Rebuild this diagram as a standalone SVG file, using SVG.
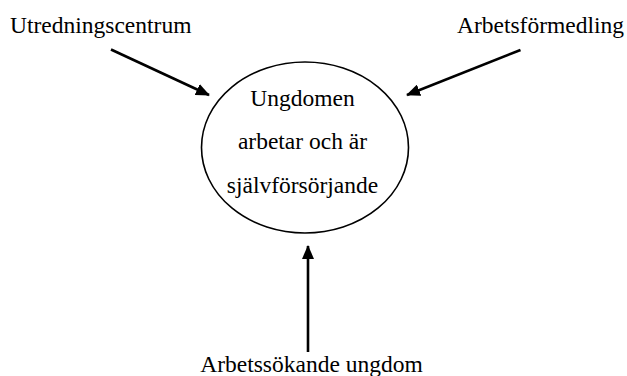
<svg xmlns="http://www.w3.org/2000/svg" width="627" height="376" viewBox="0 0 627 376">
<style>
text{font-family:'Liberation Serif','Times New Roman',Times,serif;font-size:23.5px;fill:#000}
.c{stroke:#000;stroke-width:2.6;fill:none}
</style>
<defs>
<marker id="ah" markerUnits="userSpaceOnUse" markerWidth="14" markerHeight="12" refX="13" refY="6" orient="auto">
<path d="M0,0 L14,6 L0,12 Z" fill="#000"/>
</marker>
</defs>
<rect width="627" height="376" fill="#fff"/>
<g id="center">
<ellipse cx="305" cy="147.5" rx="103.5" ry="85.5" fill="none" stroke="#000" stroke-width="1.6"/>
<text x="302.5" y="106" text-anchor="middle" font-family="Liberation Serif, serif">Ungdomen</text>
<text x="302.5" y="148.5" text-anchor="middle" font-family="Liberation Serif, serif">arbetar och är</text>
<text x="302.5" y="193" text-anchor="middle" font-family="Liberation Serif, serif">självförsörjande</text>
</g>
<g id="utredningscentrum">
<text x="10" y="33" font-family="Liberation Serif, serif">Utredningscentrum</text>
</g>
<g id="arbetsformedling">
<text x="624" y="33" text-anchor="end" font-family="Liberation Serif, serif">Arbetsförmedling</text>
</g>
<g id="arbetssokande">
<text x="311.5" y="372" text-anchor="middle" font-family="Liberation Serif, serif">Arbetssökande ungdom</text>
</g>
<g id="connectors">
<line class="c" x1="111" y1="49.5" x2="209" y2="95" marker-end="url(#ah)"/>
<line class="c" x1="520.5" y1="50" x2="407" y2="95" marker-end="url(#ah)"/>
<line class="c" x1="308" y1="352" x2="308" y2="246" marker-end="url(#ah)"/>
</g>
</svg>
